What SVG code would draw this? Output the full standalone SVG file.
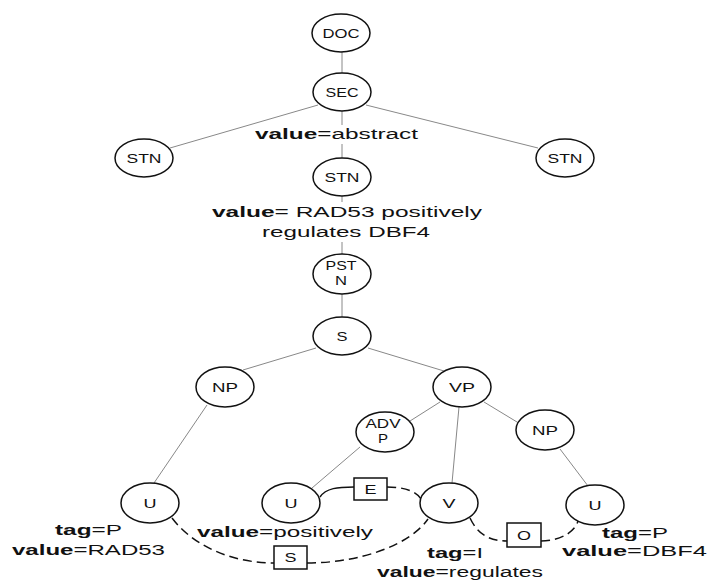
<svg xmlns="http://www.w3.org/2000/svg" width="709" height="581" viewBox="0 0 709 581">
<style>
  .node ellipse { fill: #fff; stroke: #111; stroke-width: 1.5; }
  .nl { font-family: "Liberation Sans", Arial, sans-serif; font-size: 13px; fill: #111; text-anchor: middle; }
  .lbl { font-family: "Liberation Sans", Arial, sans-serif; font-size: 14px; fill: #111; }
  .b { font-weight: bold; }
  .edge { stroke: #888; stroke-width: 1; fill: none; }
  .rel { stroke: #111; stroke-width: 1.5; fill: none; }
  .dash { stroke-dasharray: 9 5; }
  .box rect { fill: #fff; stroke: #111; stroke-width: 1.5; }
</style>
<rect width="709" height="581" fill="#fff"/>
<g id="connectors">
  <line class="edge" x1="342" y1="52" x2="342" y2="73"/>
  <line class="edge" x1="318" y1="105" x2="170" y2="148"/>
  <line class="edge" x1="366" y1="105" x2="538" y2="148"/>
  <line class="edge" x1="342" y1="111" x2="342" y2="125"/>
  <line class="edge" x1="342" y1="144" x2="342" y2="158"/>
  <line class="edge" x1="342" y1="196" x2="342" y2="202"/>
  <line class="edge" x1="342" y1="242" x2="342" y2="254"/>
  <line class="edge" x1="342" y1="294" x2="342" y2="317"/>
  <line class="edge" x1="316" y1="348" x2="243" y2="370"/>
  <line class="edge" x1="368" y1="348" x2="444" y2="371"/>
  <line class="edge" x1="207" y1="405" x2="154" y2="483"/>
  <line class="edge" x1="440" y1="402" x2="410" y2="421"/>
  <line class="edge" x1="459" y1="407" x2="452" y2="483"/>
  <line class="edge" x1="484" y1="402" x2="517" y2="422"/>
  <line class="edge" x1="360" y1="447" x2="312" y2="488"/>
  <line class="edge" x1="560" y1="449" x2="588" y2="486"/>
  <path class="rel" d="M320,497 C326,488 338,487 354,487"/>
  <path class="rel dash" d="M387,487 C404,487 416,491 421,499"/>
  <path class="rel dash" d="M172,518 C195,548 235,563 274,563"/>
  <path class="rel dash" d="M307,563 C360,563 410,545 428,519"/>
  <path class="rel dash" d="M470,518 C478,535 490,541 507,541"/>
  <path class="rel dash" d="M541,541 C560,541 575,532 578,521"/>
</g>
<g id="DOC" class="node"><ellipse cx="341" cy="33" rx="29" ry="19"/><text class="nl" x="341" y="38" textLength="37" lengthAdjust="spacingAndGlyphs">DOC</text></g>
<g id="SEC" class="node"><ellipse cx="342" cy="92" rx="29" ry="19"/><text class="nl" x="342" y="97" textLength="33" lengthAdjust="spacingAndGlyphs">SEC</text></g>
<g id="STN-left" class="node"><ellipse cx="144" cy="158" rx="29" ry="19"/><text class="nl" x="144" y="163" textLength="35" lengthAdjust="spacingAndGlyphs">STN</text></g>
<g id="STN-right" class="node"><ellipse cx="565" cy="158" rx="29" ry="19"/><text class="nl" x="565" y="163" textLength="35" lengthAdjust="spacingAndGlyphs">STN</text></g>
<g id="STN-mid" class="node"><ellipse cx="342" cy="177" rx="29" ry="19"/><text class="nl" x="342" y="182" textLength="35" lengthAdjust="spacingAndGlyphs">STN</text></g>
<g id="PSTN" class="node"><ellipse cx="342" cy="274" rx="29" ry="20"/><text class="nl" x="341" y="270" textLength="31" lengthAdjust="spacingAndGlyphs">PST</text><text class="nl" x="341" y="285" textLength="12" lengthAdjust="spacingAndGlyphs">N</text></g>
<g id="S" class="node"><ellipse cx="342" cy="336" rx="29" ry="19"/><text class="nl" x="342" y="341" textLength="11" lengthAdjust="spacingAndGlyphs">S</text></g>
<g id="NP-left" class="node"><ellipse cx="225" cy="387" rx="29" ry="20"/><text class="nl" x="225" y="392" textLength="26" lengthAdjust="spacingAndGlyphs">NP</text></g>
<g id="VP" class="node"><ellipse cx="462" cy="387" rx="29" ry="20"/><text class="nl" x="462" y="392" textLength="26" lengthAdjust="spacingAndGlyphs">VP</text></g>
<g id="ADVP" class="node"><ellipse cx="385" cy="432" rx="29" ry="20"/><text class="nl" x="383" y="428" textLength="35" lengthAdjust="spacingAndGlyphs">ADV</text><text class="nl" x="383" y="443" textLength="10" lengthAdjust="spacingAndGlyphs">P</text></g>
<g id="NP-right" class="node"><ellipse cx="545" cy="430" rx="29" ry="20"/><text class="nl" x="545" y="435" textLength="26" lengthAdjust="spacingAndGlyphs">NP</text></g>
<g id="U-left" class="node"><ellipse cx="150" cy="503" rx="29" ry="20"/><text class="nl" x="150" y="508" textLength="13" lengthAdjust="spacingAndGlyphs">U</text></g>
<g id="U-mid" class="node"><ellipse cx="291" cy="503" rx="29" ry="20"/><text class="nl" x="291" y="508" textLength="13" lengthAdjust="spacingAndGlyphs">U</text></g>
<g id="V" class="node"><ellipse cx="449" cy="503" rx="29" ry="20"/><text class="nl" x="449" y="508" textLength="13" lengthAdjust="spacingAndGlyphs">V</text></g>
<g id="U-right" class="node"><ellipse cx="595" cy="505" rx="29" ry="20"/><text class="nl" x="595" y="510" textLength="13" lengthAdjust="spacingAndGlyphs">U</text></g>
<g id="box-E" class="box"><rect x="354" y="478" width="33" height="22"/><text class="nl" x="370.5" y="494" textLength="12" lengthAdjust="spacingAndGlyphs">E</text></g>
<g id="box-S" class="box"><rect x="274" y="546" width="33" height="23"/><text class="nl" x="290.5" y="562" textLength="12" lengthAdjust="spacingAndGlyphs">S</text></g>
<g id="box-O" class="box"><rect x="507" y="523" width="34" height="24"/><text class="nl" x="524" y="540" textLength="14" lengthAdjust="spacingAndGlyphs">O</text></g>
<g id="labels">
  <text class="lbl" x="255" y="139" textLength="163" lengthAdjust="spacingAndGlyphs"><tspan class="b">value</tspan>=abstract</text>
  <text class="lbl" x="212" y="217" textLength="270" lengthAdjust="spacingAndGlyphs"><tspan class="b">value</tspan>= RAD53 positively</text>
  <text class="lbl" x="262" y="237" textLength="168" lengthAdjust="spacingAndGlyphs">regulates DBF4</text>
  <text class="lbl" x="55" y="535" textLength="67" lengthAdjust="spacingAndGlyphs"><tspan class="b">tag</tspan>=P</text>
  <text class="lbl" x="12" y="555" textLength="153" lengthAdjust="spacingAndGlyphs"><tspan class="b">value</tspan>=RAD53</text>
  <text class="lbl" x="197" y="537" textLength="176" lengthAdjust="spacingAndGlyphs"><tspan class="b">value</tspan>=positively</text>
  <text class="lbl" x="427" y="558" textLength="56" lengthAdjust="spacingAndGlyphs"><tspan class="b">tag</tspan>=I</text>
  <text class="lbl" x="377" y="577" textLength="166" lengthAdjust="spacingAndGlyphs"><tspan class="b">value</tspan>=regulates</text>
  <text class="lbl" x="602" y="538" textLength="66" lengthAdjust="spacingAndGlyphs"><tspan class="b">tag</tspan>=P</text>
  <text class="lbl" x="562" y="556" textLength="145" lengthAdjust="spacingAndGlyphs"><tspan class="b">value</tspan>=DBF4</text>
</g>
</svg>
